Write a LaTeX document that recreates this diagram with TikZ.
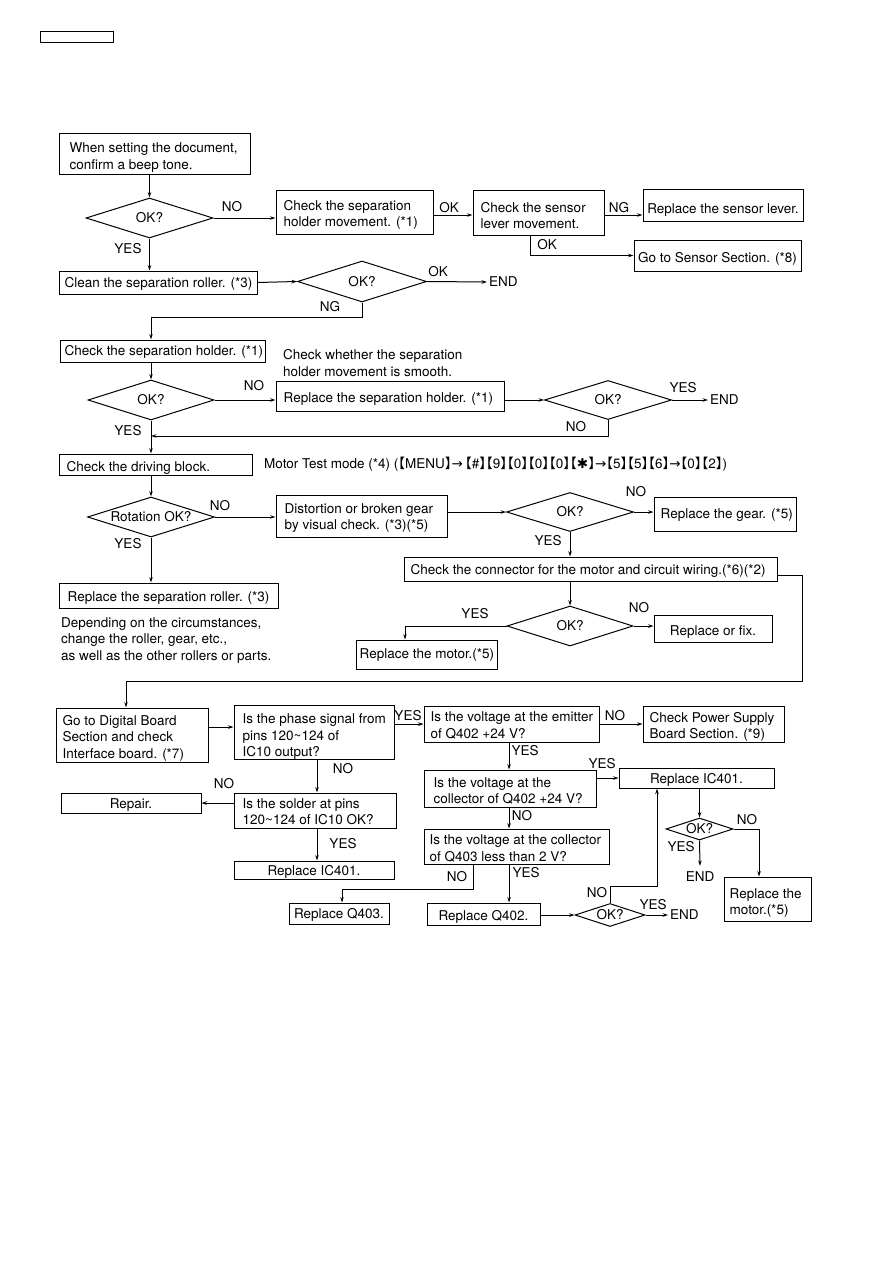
\documentclass[tikz,border=0pt]{standalone}
\usepackage{fontspec}
\setmainfont{TeX Gyre Heros}
\newfontfamily\cjkf[RawFeature=+halt]{Noto Sans CJK JP}
\newfontfamily\djv{DejaVu Sans}
\usetikzlibrary{shapes.geometric,arrows.meta}
\newcommand\mainsz{\fontsize{13.5}{16.5}\selectfont}
\tikzset{
 box/.style={draw, line width=1pt, inner sep=0pt},
 txt/.style={inner sep=0pt, align=left, font=\mainsz},
 dia/.style={draw, diamond, line width=1pt, inner sep=0pt, shape aspect=3, font=\mainsz, align=center},
 lbl/.style={inner sep=0pt, font=\mainsz},
 arr/.style={line width=1pt, -{Stealth[length=5.5pt,width=3.6pt]}},
}
% #1 = downward text shift, #2 name, #3..#6 corners, #7 left pad, #8 text
\newcommand\bxl[8][2]{\node[box,minimum width={#5-#3},minimum height={#6-#4}] (#2) at ({(#3+#5)/2},{(#4+#6)/2}) {};
\node[txt,anchor=west] (#2t) at ([xshift=#7pt,yshift=-#1pt]#2.west) {#8};}
\newcommand\bxc[7][2]{\node[box,minimum width={#5-#3},minimum height={#6-#4}] (#2) at ({(#3+#5)/2},{(#4+#6)/2}) {};
\node[txt,align=center] (#2t) at ([yshift=-#1pt]#2.center) {#7};}
\newcommand\kk[1]{{\cjkf 【}#1{\cjkf 】}}
\newcommand\ar{{\djv →}}
\begin{document}
\begin{tikzpicture}[x=1pt,y=-1pt]
\useasboundingbox (0,0) rectangle (893,1263);
\fill[white] (0,0) rectangle (893,1263);
% header
\node[box,minimum width=73,minimum height=11] (hdr) at (76.5,37.5) {};
% boxes
\bxl[4]{b1}{59}{133}{250}{174}{11}{When setting the document,\\confirm a beep tone.}
\bxl[3]{b2}{276}{190}{433}{234}{8}{Check the separation\\holder movement. (*1)}
\bxl[3]{b5}{473}{190}{604}{235}{8}{Check the sensor\\lever movement.}
\bxc[5]{b6}{643}{189}{803}{221}{Replace the sensor lever.}
\bxc[3]{b7}{634}{240}{801}{271}{Go to Sensor Section. (*8)}
\bxl[1]{b3}{59}{271}{257}{294}{6}{Clean the separation roller. (*3)}
\bxl[1]{b4}{60}{340}{265}{362}{5}{Check the separation holder. (*1)}
\bxl[3]{b8}{276}{381}{504}{411}{8}{Replace the separation holder. (*1)}
\bxl[3]{b9}{59}{454}{252}{475}{8}{Check the driving block.}
\bxl[2]{b10}{276}{495}{447}{537}{9}{Distortion or broken gear\\by visual check. (*3)(*5)}
\bxl[2.5]{b11}{59}{583}{278}{608}{9}{Replace the separation roller. (*3)}
\bxl[1]{b12}{654}{497}{796}{531}{7}{Replace the gear. (*5)}
\bxl[2]{b13}{404}{557}{777}{581}{7}{Check the connector for the motor and circuit wiring.(*6)(*2)}
\bxl[1]{b15}{356}{640}{497}{669}{4}{Replace the motor.(*5)}
\bxc[4]{b16}{654}{615}{772}{642}{Replace or fix.}
\bxl[3]{b17}{56}{708}{208}{762}{7}{Go to Digital Board\\Section and check\\Interface board. (*7)}
\bxl[5]{b18}{234}{705}{394}{759}{9}{Is the phase signal from\\pins 120\textasciitilde124 of\\IC10 output?}
\bxl[1.5]{b19}{424}{706}{599}{742}{7}{Is the voltage at the emitter\\of Q402 +24 V?}
\bxl[3]{b25}{643}{706}{784}{742}{7}{Check Power Supply\\Board Section. (*9)}
\bxl[1]{b20}{234}{793}{396}{828}{9}{Is the solder at pins\\120\textasciitilde124 of IC10 OK?}
\bxc[2]{b21}{61}{793}{201}{813}{Repair.}
\bxc[2]{b22}{234}{861}{394}{879}{Replace IC401.}
\bxl[2.5]{b26}{424}{770}{596}{807}{10}{Is the voltage at the\\collector of Q402 +24 V?}
\bxc[2]{b27}{619}{768}{774}{788}{Replace IC401.}
\bxl[2]{b28}{424}{829}{609}{864}{6}{Is the voltage at the collector\\of Q403 less than 2 V?}
\bxc[1]{b24}{289}{903}{389}{924}{Replace Q403.}
\bxc[2.5]{b29}{427}{903}{540}{925}{Replace Q402.}
\bxl[4]{b30}{724}{877}{811}{921}{6}{Replace the\\motor.(*5)}
% diamonds
\node[dia,minimum width=127,minimum height=40] (d1) at (149.5,218) {OK?};
\node[dia,minimum width=129,minimum height=41] (d2) at (362,281.5) {OK?};
\node[dia,minimum width=126,minimum height=40] (d3) at (151,400) {OK?};
\node[dia,minimum width=127,minimum height=39] (d4) at (608,400) {OK?};
\node[dia,minimum width=127,minimum height=40] (d5) at (151,517) {Rotation OK?};
\node[dia,minimum width=127,minimum height=39] (d6) at (570,512) {OK?};
\node[dia,minimum width=126,minimum height=40] (d7) at (570,626) {OK?};
\node[dia,minimum width=70,minimum height=23] (d8) at (610,915) {OK?};
\node[dia,minimum width=67,minimum height=22] (d9) at (699.5,829) {OK?};
% END nodes
\node[lbl,anchor=west,inner xsep=2pt] (e1) at (487,282) {END};
\node[lbl,anchor=west,inner xsep=2pt] (e2) at (708,400) {END};
\node[lbl,anchor=west,inner xsep=2pt] (e3) at (668,915) {END};
\node[lbl,inner ysep=6pt] (e4) at (700,877) {END};
% notes
\node[txt,anchor=west] (n1) at (283,363) {Check whether the separation\\holder movement is smooth.};
\node[txt,anchor=west] (n2) at (61,640.5) {Depending on the circumstances,\\change the roller, gear, etc.,\\as well as the other rollers or parts.};
\node[txt,anchor=west] (mt) at (264,464) {Motor Test mode (*4) (\kk{MENU}\ar\,\kk{\#}\kk{9}\kk{0}\kk{0}\kk{0}\kk{{\djv ✱}}\ar\kk{5}\kk{5}\kk{6}\ar\kk{0}\kk{2})};
% labels
\node[lbl] (l1) at (232,207) {NO};
\node[lbl] (l2) at (128,249) {YES};
\node[lbl] (l3) at (449,208) {OK};
\node[lbl] (l4) at (619,208) {NG};
\node[lbl] (l5) at (547,245) {OK};
\node[lbl] (l6) at (438,272) {OK};
\node[lbl] (l7) at (330,307) {NG};
\node[lbl] (l8) at (254,386) {NO};
\node[lbl] (l9) at (128,431) {YES};
\node[lbl] (l10) at (683,388) {YES};
\node[lbl] (l11) at (576,427) {NO};
\node[lbl] (l12) at (220,506) {NO};
\node[lbl] (l13) at (128,544) {YES};
\node[lbl] (l14) at (636,492) {NO};
\node[lbl] (l15) at (548,541) {YES};
\node[lbl] (l16) at (475,614) {YES};
\node[lbl] (l17) at (639,608) {NO};
\node[lbl] (l18) at (408,716) {YES};
\node[lbl] (l19) at (343,769) {NO};
\node[lbl] (l20) at (224,784) {NO};
\node[lbl] (l21) at (343,844) {YES};
\node[lbl] (l22) at (615,716) {NO};
\node[lbl] (l23) at (525,751) {YES};
\node[lbl] (l24) at (602,764) {YES};
\node[lbl] (l25) at (522,816) {NO};
\node[lbl] (l26) at (457,877) {NO};
\node[lbl] (l27) at (526,873) {YES};
\node[lbl] (l28) at (597,893) {NO};
\node[lbl] (l29) at (653,905) {YES};
\node[lbl] (l30) at (747,820) {NO};
\node[lbl] (l31) at (681,847) {YES};
% connectors
\draw[arr] (d1.north |- b1.south) -- (d1.north);
\draw[arr] (d1.east) -- (d1.east -| b2.west);
\path ([yshift=-3pt]b2.east) coordinate (q1);
\draw[arr] (q1) -- (q1 -| b5.west);
\draw[arr] (b5.east |- q1) -- (b6.west |- q1);
\draw[arr] ([xshift=-8.5pt]b5.south) |- (b7.west);
\draw[arr] (d1.south) -- (d1.south |- b3.north);
\draw[arr] (b3.east) -- (d2.west);
\draw[arr] (d2.east) -- (e1.west);
\draw[arr] (d2.south) -- ++(0,15) -| (d3.north |- b4.north);
\draw[arr] (d3.north |- b4.south) -- (d3.north);
\draw[arr] (d3.east) -- (d3.east -| b8.west);
\draw[arr] (d4.west -| b8.east) -- (d4.west);
\draw[arr] (d4.east) -- (e2.west);
\coordinate (j1) at (151,436);
\draw[arr] (d4.south) |- (j1);
\draw[arr] (d3.south) -- (d3.south |- b9.north);
\draw[arr] (d5.north |- b9.south) -- (d5.north);
\draw[arr] (d5.east) -- (d5.east -| b10.west);
\draw[arr] (d6.west -| b10.east) -- (d6.west);
\draw[arr] (d6.east) -- (d6.east -| b12.west);
\draw[arr] (d6.south) -- (d6.south |- b13.north);
\draw[arr] (d7.north |- b13.south) -- (d7.north);
\draw[arr] (d7.east) -- (d7.east -| b16.west);
\draw[arr] (d7.west) -| ([xshift=-21.5pt]b15.north);
\draw[arr] (d5.south) -- (d5.south |- b11.north);
\coordinate (c1) at (802,681);
\draw[arr] ([yshift=-6pt]b13.east) -| (c1) -| ([xshift=-6pt]b17.north);
\path ([yshift=8pt]b17.east) coordinate (p1);
\draw[arr] (p1) -- (p1 -| b18.west);
\draw[arr] (b19.west -| b18.east) -- (b19.west);
\path ([xshift=3pt]b18.south) coordinate (p2);
\draw[arr] (p2) -- (p2 |- b20.north);
\draw[arr] (b21.east -| b20.west) -- (b21.east);
\draw[arr] (p2 |- b20.south) -- (p2 |- b22.north);
\draw[arr] (b19.east) -- (b25.west);
\path ([xshift=-2.5pt]b19.south) coordinate (p3);
\draw[arr] (p3) -- (p3 |- b26.north);
\draw[arr] (b27.west -| b26.east) -- (b27.west);
\draw[arr] (p3 |- b26.south) -- (p3 |- b28.north);
\draw[arr] (p3 |- b28.south) -- (p3 |- b29.north);
\path ([xshift=-43.5pt]b28.south) coordinate (p4);
\draw[arr] (p4) -- ++(0,25) -| ([xshift=3pt]b24.north);
\draw[arr] (d8.west -| b29.east) -- (d8.west);
\draw[arr] (d8.east) -- (e3.west);
\draw[arr] (d8.north) -- ++(0,-17) -| ([xshift=-39.5pt]b27.south);
\draw[arr] (d9.north |- b27.south) -- (d9.north);
\draw[arr] (d9.east) -| ([xshift=-8.5pt]b30.north);
\draw[arr] (d9.south) -- (e4.north);
\end{tikzpicture}
\end{document}
